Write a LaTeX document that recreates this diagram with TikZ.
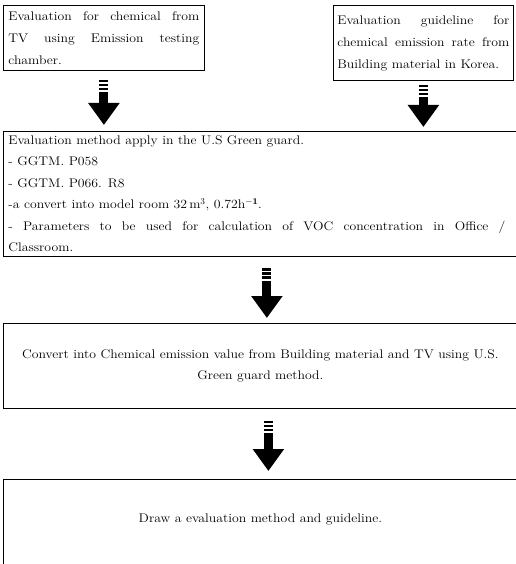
\documentclass[tikz,border=0pt]{standalone}
\usepackage{fontspec}
\setmainfont{Latin Modern Roman}[FakeStretch=1.1]
\usetikzlibrary{arrows.meta}

\tikzset{
  flowbox/.style={draw, line width=0.8pt, anchor=north west, inner xsep=5pt, inner ysep=4pt,
    font=\fontsize{12.5}{22}\selectfont},
  stripearrow/.style={line width=9pt,
    dash pattern=on 2.5pt off 1.5pt on 2.5pt off 1.5pt on 2.5pt off 2pt on 300pt off 1pt,
    -{Triangle[width=30pt,length=22pt]}}
}

\begin{document}
\begin{tikzpicture}[x=1pt,y=-1pt]
    \useasboundingbox (0,0) rectangle (515,564);
    % the two sources
    \node [flowbox, text width=191pt, align=justify, minimum height=65pt] (tvtest) at (3,5)
        {Evaluation for chemical from\linebreak TV using Emission testing\linebreak chamber.};
    \node [flowbox, inner xsep=4pt, text width=172pt, align=justify, minimum height=75pt] (korguide) at (333,5)
        {Evaluation guideline for\linebreak chemical emission rate from\linebreak Building material in Korea.};
    % U.S. method
    \node [flowbox, font=\fontsize{12.5}{21.5}\selectfont] (ggmethod) at (3,131)
        {\parbox{497pt}{Evaluation method apply in the U.S Green guard.\\
         - GGTM. P058\\
         - GGTM. P066. R8\\
         -a convert into model room 32\,m$^{3}$, 0.72h$^{\mathbf{-1}}$.\\
         - Parameters to be used for calculation of VOC concentration in Office /\linebreak
         Classroom.}\hspace*{20pt}};
    \node [flowbox, minimum width=514pt, minimum height=85pt, align=center,
        font=\fontsize{12.5}{21}\selectfont] (convert) at (3,323)
        {Convert into Chemical emission value from Building material and TV using U.S.\\ Green guard method.};
    \node [flowbox, minimum width=514pt, inner ysep=0pt, text height=43pt, text depth=50pt] (drawguide) at (3,479)
        {Draw a evaluation method and guideline.};
    % arrows
    \draw [stripearrow, shorten <=9pt, shorten >=6pt] (tvtest.south) -- (tvtest.south |- ggmethod.north);
    \draw [stripearrow, shorten <=4pt, shorten >=4pt] (korguide.south) -- (korguide.south |- ggmethod.north);
    \draw [stripearrow, shorten <=12pt, shorten >=5pt] (ggmethod.south) -- (ggmethod.south |- convert.north);
    \draw [stripearrow, shorten <=12pt, shorten >=8pt] ([xshift=8pt]convert.south) -- ([xshift=8pt]convert.south |- drawguide.north);
\end{tikzpicture}
\end{document}
